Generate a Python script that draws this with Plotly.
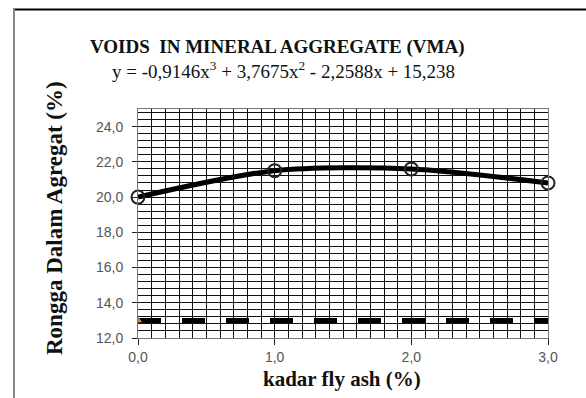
import plotly.graph_objects as go

kadar = [0.0, 1.0, 2.0, 3.0]
vma = [20.0, 21.5, 21.6, 20.8]
spec_x = [0.0, 3.0]
spec_y = [13.0, 13.0]
y_ticks = [12, 14, 16, 18, 20, 22, 24]
y_tick_text = ["12,0", "14,0", "16,0", "18,0", "20,0", "22,0", "24,0"]
x_ticks = [0, 1, 2, 3]
x_tick_text = ["0,0", "1,0", "2,0", "3,0"]

title_text = "<b>VOIDS  IN MINERAL AGGREGATE (VMA)</b>"
eq_text = "y = -0,9146x<sup>3</sup> + 3,7675x<sup>2</sup> - 2,2588x + 15,238"
ytitle = "<b>Rongga Dalam Agregat (%)</b>"
xtitle = "<b>kadar fly ash (%)</b>"

serif = "Liberation Serif, Times New Roman, serif"
sans = "Liberation Sans, Arial, sans-serif"

fig = go.Figure()
fig.add_trace(go.Scatter(x=spec_x, y=spec_y, mode="lines",
                         line=dict(color="black", width=5, dash="23px,21px"),
                         showlegend=False, hoverinfo="skip"))
fig.add_trace(go.Scatter(x=spec_x[:1], y=spec_y[:1], mode="markers",
                         marker=dict(symbol="triangle-up", size=6, color="#8db048",
                                     line=dict(color="#e07a5f", width=1)),
                         showlegend=False, hoverinfo="skip"))
fig.add_trace(go.Scatter(x=kadar, y=vma, mode="lines",
                         line=dict(color="black", width=5, shape="spline", smoothing=0.8),
                         showlegend=False))
fig.add_trace(go.Scatter(x=kadar, y=vma, mode="markers",
                         marker=dict(symbol="circle-open", size=13, color="#222",
                                     line=dict(width=2)),
                         showlegend=False, cliponaxis=False))

W, H = 586, 398
L, R, T, B = 138, 38, 109, 60
pw, ph = W - L - R, H - T - B

def px(x):
    return (x - L) / pw

def py(y):
    return (H - B - y) / ph

def ann(text, x, y, size, angle=0):
    return dict(text=text, x=px(x), y=py(y), xref="paper", yref="paper",
                xanchor="center", yanchor="middle", textangle=angle,
                showarrow=False, font=dict(family=serif, size=size, color="#111"))

fig.update_layout(
    width=W, height=H,
    margin=dict(l=L, r=R, t=T, b=B),
    paper_bgcolor="white", plot_bgcolor="white",
    xaxis=dict(range=[0, 3], tickvals=x_ticks, ticktext=x_tick_text,
               showgrid=True, gridcolor="#111", gridwidth=1,
               minor=dict(dtick=0.1, showgrid=True, gridcolor="#111", gridwidth=1),
               ticks="outside", ticklen=6, tickcolor="#222",
               showline=True, linecolor="#777", linewidth=1, mirror=True,
               tickfont=dict(family=sans, size=14, color="#555"), zeroline=False),
    yaxis=dict(range=[12, 25], tickvals=y_ticks, ticktext=y_tick_text,
               showgrid=True, gridcolor="#111", gridwidth=1,
               minor=dict(dtick=0.4, tick0=12, showgrid=True, gridcolor="#111", gridwidth=1),
               ticks="outside", ticklen=5, tickcolor="#222",
               showline=True, linecolor="#777", linewidth=1, mirror=True,
               ticklabelstandoff=6,
               tickfont=dict(family=sans, size=14, color="#555"), zeroline=False),
    annotations=[
        ann(title_text, 277, 47, 19),
        ann(eq_text, 283, 70, 19),
        ann(ytitle, 54, 218, 23, -90),
        ann(xtitle, 342, 379, 21),
    ],
    shapes=[
        dict(type="line", xref="paper", yref="paper", x0=px(13), x1=px(590),
             y0=py(9.5), y1=py(9.5), line=dict(color="black", width=2)),
        dict(type="line", xref="paper", yref="paper", x0=px(14), x1=px(14),
             y0=py(9), y1=py(400), line=dict(color="#888", width=2)),
    ],
)

fig.write_html("out.html")
